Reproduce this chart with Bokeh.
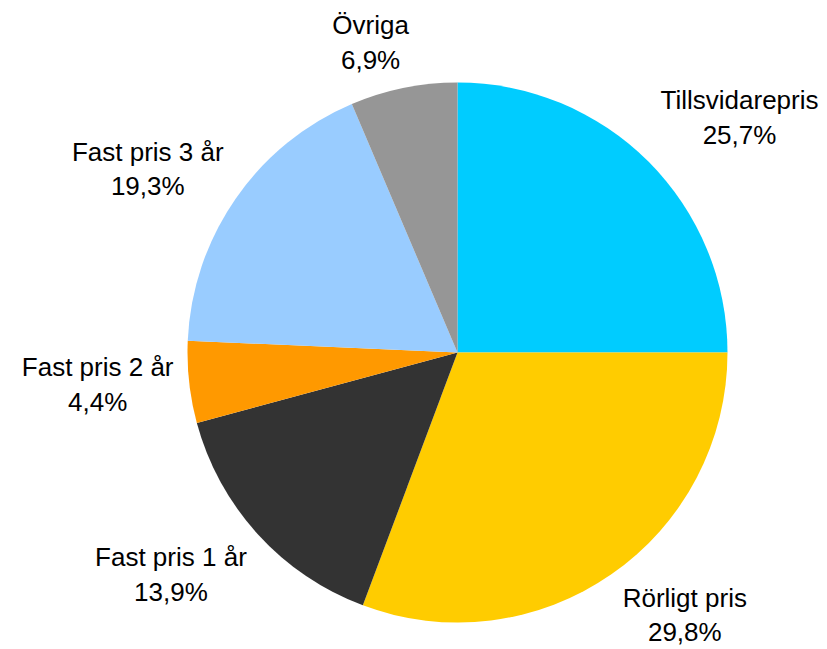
import math
from bokeh.plotting import figure
from bokeh.models import ColumnDataSource, Range1d
from bokeh.embed import file_html
from bokeh.resources import INLINE
from bokeh.core.properties import value

# ---- data ----
categories = ["Tillsvidarepris", "Rörligt pris", "Fast pris 1 år",
              "Fast pris 2 år", "Fast pris 3 år", "Övriga"]
# slice sizes as drawn in the picture (percent of the circle)
drawn_shares = [25.0, 30.7, 15.1, 4.9, 17.9, 6.4]
# percentages as printed on the labels
pct_labels = ["25,7%", "29,8%", "13,9%", "4,4%", "19,3%", "6,9%"]
colors = ["#00CCFF", "#FFCC00", "#333333", "#FF9900", "#99CCFF", "#969696"]

# ---- layout ----
W, H = 827, 649
CX, CY = 457, 297
R = 270
LABEL_R = 355
LABEL_NUDGE = [(31, -16), (25, 29), (-24, 17), (-7, 7), (-18, -19), (-16, -38)]

total = sum(drawn_shares)
starts, ends, lx, ly, texts = [], [], [], [], []
a = math.pi / 2
for i, s in enumerate(drawn_shares):
    span = s / total * 2 * math.pi
    starts.append(a)
    ends.append(a - span)
    mid = a - span / 2
    lx.append(CX + LABEL_R * math.cos(mid) + LABEL_NUDGE[i][0])
    ly.append(CY + LABEL_R * math.sin(mid) + LABEL_NUDGE[i][1])
    texts.append(categories[i] + "\n" + pct_labels[i])
    a -= span

src = ColumnDataSource(dict(start=starts, end=ends, color=colors,
                            x=[CX] * len(drawn_shares), y=[CY] * len(drawn_shares)))
lab = ColumnDataSource(dict(x=lx, y=ly, text=texts))

p = figure(width=W, height=H, output_backend="svg", toolbar_location=None,
           x_range=Range1d(0, W), y_range=Range1d(0, H),
           min_border=0, match_aspect=False)
p.axis.visible = False
p.grid.visible = False
p.outline_line_color = None
p.background_fill_color = "white"
p.border_fill_color = "white"

p.wedge(x="x", y="y", radius=R, start_angle="start", end_angle="end",
        direction="clock", fill_color="color", line_color=None, source=src)

p.text(x="x", y="y", text="text", source=lab, text_align="center",
       text_baseline="middle", text_font=value("Liberation Sans"),
       text_font_size="26px", text_color="black", text_line_height=1.15)

open("out.html", "w").write(file_html(p, INLINE))
